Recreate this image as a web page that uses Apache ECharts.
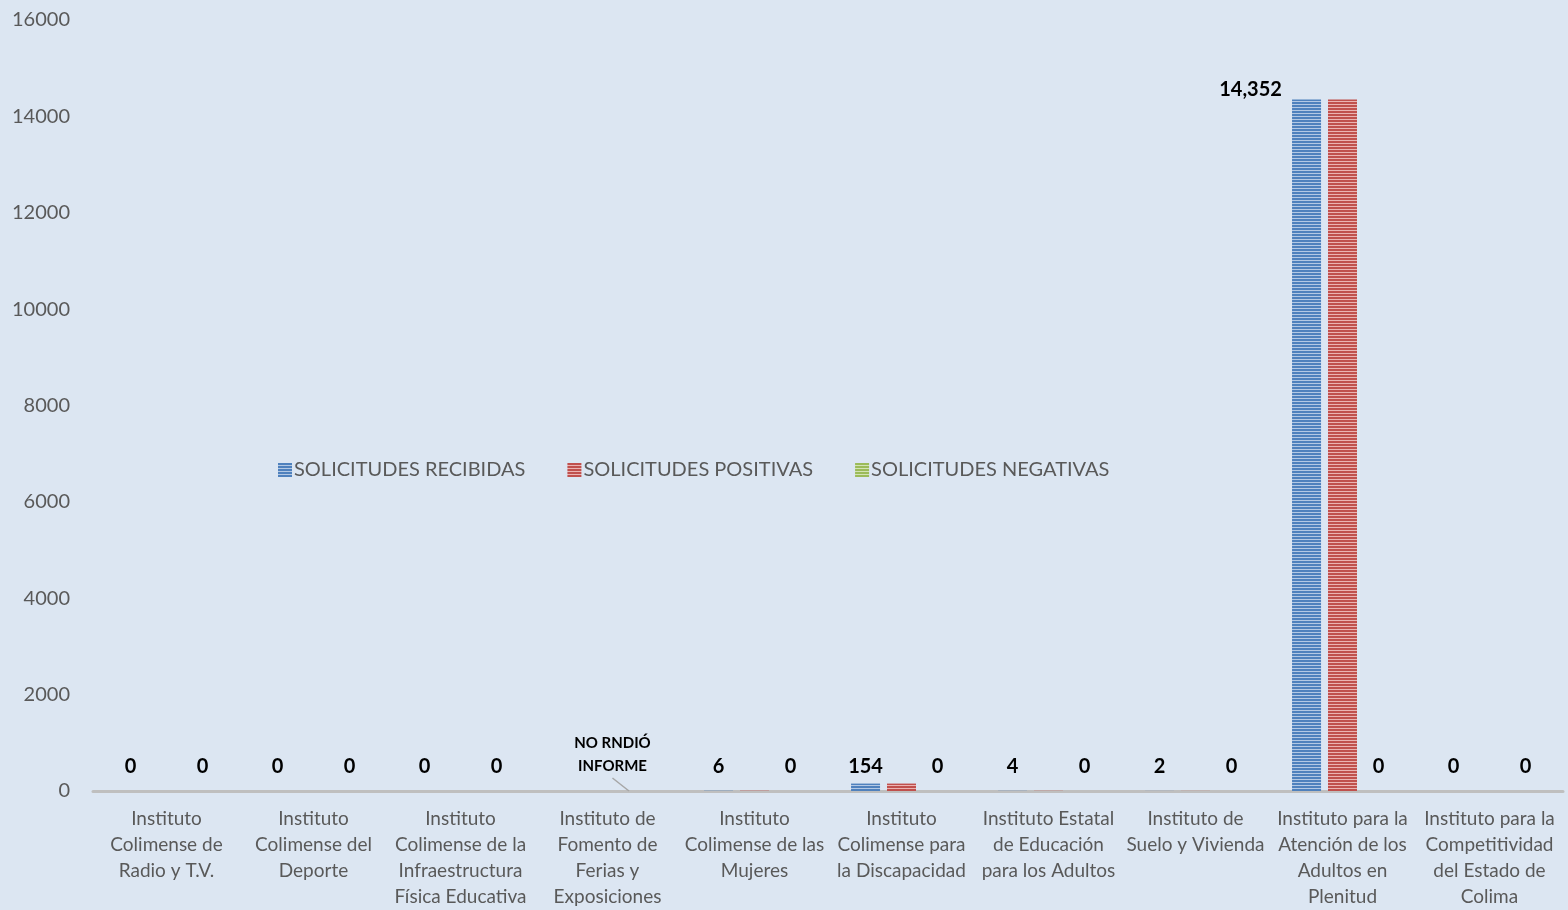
<!DOCTYPE html>
<html>
<head>
<meta charset="utf-8">
<script src="https://cdn.jsdelivr.net/npm/echarts@6/dist/echarts.min.js"></script>
<style>
  html, body { margin: 0; padding: 0; background: #dce6f2; }
  #chart { width: 1568px; height: 910px; }
</style>
</head>
<body>
<div id="chart"></div>
<script>
const categories = [
    'Instituto\nColimense de\nRadio y T.V.',
    'Instituto\nColimense del\nDeporte',
    'Instituto\nColimense de la\nInfraestructura\nFísica Educativa',
    'Instituto de\nFomento de\nFerias y\nExposiciones',
    'Instituto\nColimense de las\nMujeres',
    'Instituto\nColimense para\nla Discapacidad',
    'Instituto Estatal\nde Educación\npara los Adultos',
    'Instituto de\nSuelo y Vivienda',
    'Instituto para la\nAtención de los\nAdultos en\nPlenitud',
    'Instituto para la\nCompetitividad\ndel Estado de\nColima'
];
const seriesNames = ['SOLICITUDES RECIBIDAS', 'SOLICITUDES POSITIVAS', 'SOLICITUDES NEGATIVAS'];
const recibidas = [0, 0, 0, null, 6, 154, 4, 2, 14352, 0];
const positivas = [0, 0, 0, null, 6, 154, 4, 2, 14352, 0];
const negativas = [0, 0, 0, 0, 0, 0, 0, 0, 0, 0];
const noReportIndex = 3;
const noReportText = 'NO RNDIÓ\nINFORME';
const yTicks = { min: 0, max: 16000, interval: 2000 };

const font = 'Lato, "Open Sans", sans-serif';
const greyText = '#595959';

// rayas horizontales como en el original
function stripes(dark, light) {
    const c = document.createElement('canvas');
    c.width = 4; c.height = 3;
    const ctx = c.getContext('2d');
    ctx.fillStyle = dark; ctx.fillRect(0, 0, 4, 2);
    ctx.fillStyle = light; ctx.fillRect(0, 2, 4, 1);
    return { image: c, repeat: 'repeat' };
}

const fills = [
    stripes('#4f81bd', '#b3c8e4'),
    stripes('#c0504d', '#ebb3b2'),
    stripes('#9bbb59', '#d3e3b4')
];

const fmt = p => (p.value == null ? '' : Number(p.value).toLocaleString('en-US'));

const valueLabel = {
    show: true,
    position: 'top',
    distance: 14,
    color: '#000',
    fontWeight: 'bold',
    fontSize: 20,
    fontFamily: font,
    formatter: fmt
};

// etiquetas de recibidas: 154 queda a la misma altura que los ceros, 14,352 se corre a la izquierda
function recibidasItem(v) {
    if (v === 14352) return { value: v, label: { offset: [-56, 14] } };
    if (v === 154) return { value: v, label: { distance: 7 } };
    return v;
}

const chart = echarts.init(document.getElementById('chart'));

const option = {
    backgroundColor: '#dce6f2',
    animation: false,
    grid: { left: 93, right: 5, top: 20, bottom: 114 },
    legend: {
        data: seriesNames,
        icon: 'rect',
        left: 273,
        top: 455,
        itemWidth: 14,
        itemHeight: 14,
        itemGap: 42,
        textStyle: { color: greyText, fontSize: 20, fontFamily: font, padding: [0, 0, 0, -3] }
    },
    xAxis: {
        type: 'category',
        data: categories,
        axisLine: { lineStyle: { color: '#bfbfbf', width: 3 } },
        axisTick: { show: false },
        axisLabel: {
            interval: 0,
            color: greyText,
            fontSize: 19,
            lineHeight: 26,
            margin: 15,
            fontFamily: font
        }
    },
    yAxis: {
        type: 'value',
        min: yTicks.min,
        max: yTicks.max,
        interval: yTicks.interval,
        splitLine: { show: false },
        axisLine: { show: false },
        axisTick: { show: false },
        axisLabel: {
            color: greyText,
            fontSize: 20,
            margin: 23,
            fontFamily: font,
            formatter: v => String(v)
        }
    },
    series: [
        {
            name: seriesNames[0],
            type: 'bar',
            barWidth: 29,
            barGap: '24%',
            itemStyle: { color: fills[0] },
            label: valueLabel,
            data: recibidas.map(recibidasItem)
        },
        {
            name: seriesNames[1],
            type: 'bar',
            barWidth: 29,
            barGap: '24%',
            itemStyle: { color: fills[1] },
            data: positivas
        },
        {
            name: seriesNames[2],
            type: 'bar',
            barWidth: 29,
            barGap: '24%',
            itemStyle: { color: fills[2] },
            label: valueLabel,
            labelLine: { show: false },
            labelLayout: function (params) {
                if (params.dataIndex === noReportIndex) {
                    return { dx: -31, dy: 1 };
                }
            },
            data: negativas.map((v, i) => (i === noReportIndex
                ? {
                    value: v,
                    label: {
                        formatter: noReportText,
                        fontSize: 15,
                        lineHeight: 23
                    },
                    labelLine: { show: true, lineStyle: { color: '#a6a6a6', width: 1.5 } }
                }
                : v))
        }
    ]
};

chart.setOption(option);
</script>
</body>
</html>
